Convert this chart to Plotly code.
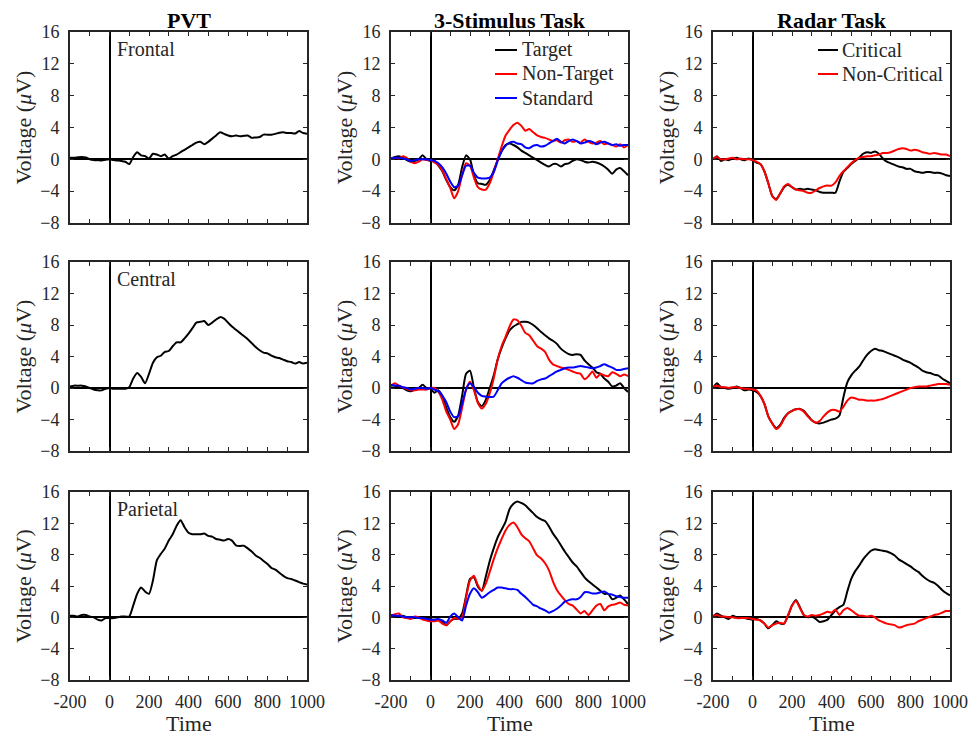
import plotly.graph_objects as go
from plotly.subplots import make_subplots

# ---------------- data ----------------
time_ms = list(range(-200, 1001, 20))

column_titles = ["PVT", "3-Stimulus Task", "Radar Task"]
region_labels = ["Frontal", "Central", "Parietal"]
x_tick_values = list(range(-200, 1001, 100))
x_tick_labels = ["-200", "", "0", "", "200", "", "400", "", "600", "", "800", "", "1000"]
y_tick_values = [-8, -4, 0, 4, 8, 12, 16]

pvt_frontal = [0.2, 0.2, 0.25, 0.3, 0.25, 0.0, -0.1, -0.1, -0.15, -0.05,
               0.0, -0.1, -0.15, -0.2, -0.3, -0.6, 0.3, 0.9, 0.5, 0.4,
               0.1, 0.7, 0.6, 0.4, 0.6, 0.1, 0.4, 0.6, 0.9, 1.2,
               1.5, 1.8, 2.1, 2.2, 1.9, 2.2, 2.6, 3.0, 3.4, 3.2,
               3.0, 2.9, 3.0, 2.9, 2.95, 3.0, 2.7, 2.75, 2.8, 3.1,
               3.1, 3.1, 3.2, 3.35, 3.4, 3.3, 3.3, 3.25, 3.55, 3.3,
               3.2]
pvt_central = [0.2, 0.3, 0.3, 0.3, 0.2, 0.0, -0.2, -0.3, -0.3, -0.1,
               0.0, -0.1, -0.1, -0.1, -0.1, 0.1, 1.2, 1.9, 1.4, 0.6,
               1.8, 3.2, 3.9, 4.1, 4.6, 4.7, 5.3, 5.8, 5.8, 6.3,
               6.9, 7.6, 8.3, 8.4, 8.5, 8.0, 8.3, 8.7, 9.0, 8.8,
               8.3, 7.8, 7.4, 7.0, 6.6, 6.2, 5.7, 5.2, 4.8, 4.5,
               4.4, 4.1, 3.9, 3.8, 3.6, 3.4, 3.3, 3.1, 3.3, 3.1,
               3.2]
pvt_parietal = [0.2, 0.2, 0.1, 0.3, 0.3, 0.1, 0.0, -0.3, -0.4, -0.1,
                -0.1, -0.1, 0.0, 0.1, 0.1, 0.1, 1.5, 3.0, 3.8, 3.3,
                3.0, 4.7, 7.3, 8.1, 8.8, 9.8, 10.6, 11.7, 12.4, 11.5,
                10.8, 10.6, 10.6, 10.6, 10.7, 10.4, 10.3, 10.0, 9.9, 9.8,
                10.0, 9.8, 9.2, 9.1, 9.15, 8.8, 8.4, 7.9, 7.6, 7.2,
                6.8, 6.3, 6.1, 5.7, 5.3, 5.0, 4.9, 4.7, 4.5, 4.3,
                4.2]

stim_target_frontal = [0.1, 0.3, 0.4, 0.2, -0.1, -0.3, -0.2, 0.0, 0.5, 0.0,
                       -0.2, -0.2, -0.8, -1.5, -2.6, -3.5, -3.9, -3.2, -1.0, 0.5,
                       0.0, -2.0, -3.0, -3.1, -3.2, -2.6, -1.4, -0.1, 1.0, 1.8,
                       2.0, 1.8, 1.5, 1.1, 0.8, 0.5, 0.2, -0.1, -0.4, -0.7,
                       -0.9, -0.6, -0.6, -0.9, -0.6, -0.5, -0.2, 0.0, -0.1, -0.3,
                       -0.4, -0.3, -0.4, -0.6, -0.9, -1.3, -1.8, -1.3, -1.1, -1.5,
                       -2.0]
stim_nontarget_frontal = [0.1, 0.2, 0.1, 0.4, 0.2, -0.3, -0.5, -0.3, 0.0, -0.1,
                          -0.1, -0.4, -0.7, -1.4, -2.5, -3.6, -4.9, -4.0, -2.0, -0.5,
                          -0.8, -2.3, -3.5, -3.8, -3.8, -3.0, -1.6, 0.0, 1.6, 3.0,
                          3.7, 4.3, 4.6, 4.2, 3.6, 3.8, 3.4, 3.0, 2.8, 2.7,
                          2.5, 2.3, 2.4, 2.1, 2.4, 2.5, 2.2, 2.3, 2.1, 2.5,
                          2.2, 2.0, 2.1, 2.3, 1.9, 2.0, 1.8, 1.6, 1.9, 1.5,
                          1.8]
stim_standard_frontal = [0.1, 0.2, 0.2, 0.1, 0.0, -0.2, -0.1, 0.0, 0.0, 0.0,
                         -0.1, -0.2, -0.5, -1.0, -1.8, -2.8, -3.5, -3.3, -2.0, -0.8,
                         -0.8, -1.7, -2.3, -2.4, -2.4, -2.3, -1.6, -0.2, 1.0, 1.7,
                         2.1, 2.2, 2.0, 1.9, 1.5, 1.4, 1.7, 1.8, 1.6, 1.7,
                         2.0, 2.3, 2.6, 2.2, 2.0, 2.3, 2.5, 2.3, 2.0, 2.1,
                         2.3, 2.2, 1.9, 2.1, 2.2, 2.0, 1.8, 1.9, 1.7, 1.8,
                         1.8]

stim_target_central = [0.3, 0.3, 0.2, 0.0, -0.3, -0.4, -0.2, 0.0, 0.4, 0.0,
                       -0.1, -0.6, -0.3, -1.0, -2.5, -3.7, -4.3, -3.5, -1.0, 1.8,
                       2.2, 0.0, -1.8, -2.3, -1.5, 0.0, 1.6, 3.6, 5.1, 6.3,
                       7.3, 7.8, 8.1, 8.4, 8.4, 8.3, 8.0, 7.6, 7.1, 6.7,
                       6.3, 6.0, 5.6, 5.0, 4.6, 4.3, 4.2, 4.3, 4.2, 3.5,
                       3.0, 2.6, 2.0, 1.8, 1.2, 0.8, 0.2, 0.3, 0.6, 0.0,
                       -0.5]
stim_nontarget_central = [0.3, 0.6, 0.3, 0.1, -0.1, -0.3, -0.3, -0.2, -0.2, -0.2,
                          0.0, 0.0, -0.5, -1.5, -3.0, -4.0, -5.2, -4.6, -2.5, -0.2,
                          0.8, -0.3, -1.9, -2.6, -2.0, -0.7, 1.2, 3.6, 5.3, 6.5,
                          7.8, 8.7, 8.6, 7.9, 7.0, 6.7, 6.0, 5.3, 5.0, 4.6,
                          3.6, 3.0, 2.8, 2.6, 2.5, 2.3, 2.1, 1.9, 1.8, 1.1,
                          1.5, 2.1, 1.3, 1.8, 1.6, 1.5, 2.0, 1.8, 1.5, 1.7,
                          1.5]
stim_standard_central = [0.4, 0.3, 0.3, 0.1, 0.0, -0.2, -0.1, 0.0, 0.0, -0.1,
                         0.0, -0.2, -0.4, -1.0, -1.8, -3.0, -3.7, -3.6, -2.0, -0.2,
                         0.6, 0.1, -0.6, -1.0, -1.1, -1.15, -1.1, -0.3, 0.6, 1.0,
                         1.3, 1.5, 1.3, 1.0, 0.7, 0.6, 0.6, 0.9, 1.1, 1.2,
                         1.5, 1.8, 2.1, 2.3, 2.5, 2.6, 2.6, 2.7, 2.8, 2.7,
                         2.6, 2.5, 2.6, 2.8, 3.0, 2.8, 2.6, 2.3, 2.3, 2.4,
                         2.5]

stim_target_parietal = [0.2, 0.2, 0.1, 0.2, 0.0, -0.1, -0.1, 0.0, 0.0, -0.1,
                        -0.3, -0.3, -0.3, -0.6, -1.0, -0.5, -0.2, -0.2, 0.5, 2.7,
                        4.9, 5.1, 3.9, 3.4, 5.2, 7.2, 8.8, 10.2, 11.2, 12.2,
                        13.8, 14.5, 14.8, 14.6, 14.3, 13.8, 13.3, 12.8, 12.5, 12.3,
                        11.6, 10.7, 10.0, 9.2, 8.4, 7.7, 7.0, 6.5, 5.8, 5.1,
                        4.6, 4.2, 3.8, 3.4, 3.0, 3.0, 2.3, 2.5, 2.8, 2.3,
                        1.7]
stim_nontarget_parietal = [0.2, 0.4, 0.5, 0.0, -0.1, -0.2, 0.1, 0.0, -0.3, -0.4,
                           -0.5, -0.5, -0.4, -0.8, -1.0, -0.5, -0.1, -0.2, 0.0, 2.5,
                           4.7, 5.3, 4.1, 3.4, 4.3, 5.8, 7.4, 8.8, 10.0, 11.1,
                           11.8, 12.1, 11.5, 10.6, 10.1, 9.7, 8.8, 7.9, 7.5, 6.9,
                           6.0, 4.6, 3.5, 2.8, 2.2, 1.7, 1.5, 1.0, 0.5, 0.8,
                           0.3, 0.9, 1.5, 1.7, 0.9, 1.4, 1.6, 1.7, 1.9, 1.6,
                           1.5]
stim_standard_parietal = [0.3, 0.2, 0.2, 0.1, 0.0, 0.0, 0.0, -0.1, -0.1, -0.2,
                          -0.3, -0.3, -0.2, -0.4, -0.7, 0.1, 0.5, 0.0, -0.4, 1.5,
                          3.0, 3.7, 3.2, 2.5, 2.8, 3.2, 3.5, 3.8, 3.8, 3.7,
                          3.6, 3.6, 3.5, 3.0, 2.6, 2.1, 1.6, 1.4, 1.1, 0.9,
                          0.6, 0.8, 1.1, 1.5, 2.0, 2.2, 2.3, 2.3, 2.6, 3.2,
                          3.2, 3.05, 3.05, 3.2, 3.3, 3.0, 2.9, 2.7, 2.6, 2.5,
                          2.5]

radar_critical_frontal = [0.0, 0.4, -0.2, 0.0, -0.1, 0.1, 0.2, 0.0, -0.1, 0.1,
                          -0.1, -0.4, -0.6, -1.5, -3.0, -4.6, -5.0, -4.3, -3.5, -3.2,
                          -3.5, -3.8, -3.7, -3.8, -3.7, -3.8, -3.9, -4.1, -4.2, -4.2,
                          -4.2, -4.2, -2.8, -1.6, -1.1, -0.6, -0.2, 0.2, 0.7, 0.9,
                          0.8, 1.0, 0.7, 0.1, -0.3, -0.5, -0.7, -0.9, -1.0, -1.2,
                          -1.2, -1.5, -1.6, -1.7, -1.6, -1.6, -1.7, -1.7, -1.8, -2.0,
                          -2.1]
radar_noncritical_frontal = [0.1, 0.3, 0.0, 0.0, 0.1, 0.2, 0.0, 0.1, 0.0, 0.0,
                             -0.1, -0.3, -0.6, -1.5, -3.0, -4.6, -5.1, -4.3, -3.4, -3.1,
                             -3.5, -3.8, -3.9, -4.0, -4.2, -4.2, -3.9, -3.6, -3.4, -3.3,
                             -3.3, -2.9, -2.1, -1.5, -1.0, -0.5, -0.1, 0.2, 0.3, 0.4,
                             0.4, 0.5, 0.6, 0.8, 0.8, 0.9, 1.1, 1.3, 1.4, 1.3,
                             1.1, 1.2, 1.1, 0.9, 0.8, 0.7, 0.8, 0.7, 0.6, 0.6,
                             0.4]
radar_critical_central = [0.0, 0.6, 0.1, 0.0, -0.1, 0.0, 0.2, 0.0, -0.3, -0.2,
                          -0.3, -0.5, -1.0, -2.0, -3.6, -4.5, -5.1, -4.7, -3.8, -3.2,
                          -2.9, -2.7, -2.65, -2.9, -3.5, -4.1, -4.4, -4.5, -4.4, -4.2,
                          -4.0, -3.9, -3.5, -1.2, 0.7, 1.6, 2.2, 2.7, 3.5, 4.2,
                          4.7, 5.0, 4.8, 4.7, 4.5, 4.3, 4.1, 3.9, 3.6, 3.4,
                          3.2, 2.9, 2.6, 2.2, 2.0, 1.9, 1.7, 1.6, 1.2, 0.9,
                          0.6]
radar_noncritical_central = [0.2, 0.3, 0.1, 0.1, 0.0, 0.1, 0.1, 0.0, -0.1, -0.1,
                             -0.2, -0.3, -1.0, -2.0, -3.6, -4.5, -5.2, -4.8, -3.9, -3.2,
                             -2.9, -2.7, -2.7, -3.0, -3.6, -4.1, -4.4, -4.2, -3.6, -3.1,
                             -2.8, -2.8, -3.0, -2.4, -1.6, -1.2, -1.3, -1.5, -1.5, -1.6,
                             -1.6, -1.6, -1.5, -1.4, -1.2, -1.0, -0.8, -0.6, -0.4, -0.2,
                             0.0, 0.1, 0.2, 0.2, 0.2, 0.3, 0.4, 0.5, 0.5, 0.5,
                             0.4]
radar_critical_parietal = [0.1, 0.5, 0.2, 0.0, -0.2, 0.2, 0.0, 0.0, -0.1, -0.2,
                           -0.3, -0.2, -0.4, -0.8, -1.4, -1.0, -0.5, -0.8, -0.8, 0.2,
                           1.5, 2.2, 1.3, 0.3, 0.0, 0.1, -0.2, -0.6, -0.5, -0.3,
                           0.3, 0.9, 1.3, 1.6, 3.3, 4.9, 5.9, 6.6, 7.4, 8.0,
                           8.5, 8.7, 8.6, 8.5, 8.4, 8.2, 7.9, 7.4, 7.1, 6.8,
                           6.5, 6.1, 5.8, 5.3, 4.9, 4.6, 4.4, 4.0, 3.5, 3.1,
                           2.8]
radar_noncritical_parietal = [0.2, 0.3, 0.1, 0.1, 0.0, 0.0, -0.1, -0.1, -0.1, -0.1,
                              -0.2, -0.3, -0.4, -0.8, -1.3, -1.0, -0.8, -0.7, -0.8, 0.3,
                              1.5, 2.1, 1.2, 0.3, 0.1, 0.3, 0.2, 0.3, 0.5, 0.7,
                              0.6, 1.0, 0.3, 0.9, 1.2, 0.9, 0.5, 0.2, 0.2, 0.1,
                              0.2, 0.0, -0.4, -0.6, -0.8, -0.9, -1.0, -1.3, -1.2, -1.0,
                              -0.9, -0.8, -0.5, -0.3, -0.1, 0.1, 0.3, 0.4, 0.6, 0.8,
                              0.8]

stim_legend_names = ["Target", "Non-Target", "Standard"]
radar_legend_names = ["Critical", "Non-Critical"]

# ---------------- layout constants ----------------
W, H = 973, 742
FONT = "Liberation Serif, Times New Roman, serif"
AXC = "#262626"
RED = "#FF0000"
BLUE = "#0000FF"
col_px = [(70, 307), (391, 628), (713, 950)]
row_px = [(32, 223), (262, 451), (492, 680)]

panels = {
    (0, 0): [("PVT", pvt_frontal, "black")],
    (1, 0): [("PVT", pvt_central, "black")],
    (2, 0): [("PVT", pvt_parietal, "black")],
    (0, 1): [("Target", stim_target_frontal, "black"),
             ("Non-Target", stim_nontarget_frontal, RED),
             ("Standard", stim_standard_frontal, BLUE)],
    (1, 1): [("Target", stim_target_central, "black"),
             ("Non-Target", stim_nontarget_central, RED),
             ("Standard", stim_standard_central, BLUE)],
    (2, 1): [("Target", stim_target_parietal, "black"),
             ("Non-Target", stim_nontarget_parietal, RED),
             ("Standard", stim_standard_parietal, BLUE)],
    (0, 2): [("Critical", radar_critical_frontal, "black"),
             ("Non-Critical", radar_noncritical_frontal, RED)],
    (1, 2): [("Critical", radar_critical_central, "black"),
             ("Non-Critical", radar_noncritical_central, RED)],
    (2, 2): [("Critical", radar_critical_parietal, "black"),
             ("Non-Critical", radar_noncritical_parietal, RED)],
}

fig = make_subplots(rows=3, cols=3)

for (r, c), series in panels.items():
    for name, vals, color in series:
        fig.add_trace(go.Scatter(x=time_ms, y=vals, mode="lines", name=name,
                                 line=dict(color=color, width=2, shape="spline", smoothing=0.6),
                                 showlegend=False, hoverinfo="skip"),
                      row=r + 1, col=c + 1)

annotations = []
shapes = []
for r in range(3):
    for c in range(3):
        idx = r * 3 + c + 1
        sfx = "" if idx == 1 else str(idx)
        x0, x1 = col_px[c]
        y0, y1 = row_px[r]
        fig.layout["xaxis" + sfx].update(
            domain=[x0 / W, x1 / W], range=[-200, 1000],
            tickmode="array", tickvals=x_tick_values, ticktext=x_tick_labels,
            showticklabels=(r == 2), ticks="inside", ticklen=4, tickwidth=1,
            tickcolor=AXC, showline=True, linecolor=AXC, linewidth=2,
            mirror="ticks", showgrid=False, zeroline=True, zerolinecolor="black",
            zerolinewidth=2, tickfont=dict(family=FONT, size=18, color=AXC),
            ticklabelstandoff=4, automargin=False, fixedrange=True)
        fig.layout["yaxis" + sfx].update(
            domain=[1 - y1 / H, 1 - y0 / H], range=[-8, 16],
            tickmode="array", tickvals=y_tick_values,
            ticks="inside", ticklen=4, tickwidth=1, tickcolor=AXC,
            showline=True, linecolor=AXC, linewidth=2, mirror="ticks",
            showgrid=False, zeroline=True, zerolinecolor="black", zerolinewidth=2,
            tickfont=dict(family=FONT, size=18, color=AXC),
            ticklabelstandoff=5, automargin=False, fixedrange=True)
        annotations.append(dict(
            text="Voltage (<i>μ</i>V)", xref="paper", yref="paper",
            x=(x0 - 47) / W, y=1 - (y0 + y1) / 2 / H, textangle=-90,
            showarrow=False, xanchor="center", yanchor="middle",
            font=dict(family=FONT, size=22, color=AXC)))
        if r == 2:
            annotations.append(dict(
                text="Time", xref="paper", yref="paper",
                x=(x0 + x1) / 2 / W, y=1 - 723 / H, showarrow=False,
                xanchor="center", yanchor="middle",
                font=dict(family=FONT, size=22, color=AXC)))
        if r == 0:
            annotations.append(dict(
                text="<b>" + column_titles[c] + "</b>", xref="paper", yref="paper",
                x=(x0 + x1) / 2 / W, y=1 - 20 / H, showarrow=False,
                xanchor="center", yanchor="middle",
                font=dict(family=FONT, size=22, color="black")))
    y0, y1 = row_px[r]
    annotations.append(dict(
        text=region_labels[r], xref="paper", yref="paper",
        x=115 / W, y=1 - (y0 + 17) / H, showarrow=False,
        xanchor="left", yanchor="middle",
        font=dict(family=FONT, size=20, color=AXC)))

# hand-placed legends (line sample + label) in the top row panels
legend_specs = [
    (stim_legend_names, ["black", RED, BLUE], 495, 517, 520),
    (radar_legend_names, ["black", RED], 818, 838, 840),
]
for names, colors, lx0, lx1, tx in legend_specs:
    for i, (nm, colr) in enumerate(zip(names, colors)):
        yy = 1 - (50 + 24 * i) / H
        shapes.append(dict(type="line", xref="paper", yref="paper",
                           x0=lx0 / W, x1=lx1 / W, y0=yy, y1=yy,
                           line=dict(color=colr, width=2)))
        annotations.append(dict(
            text=nm, xref="paper", yref="paper", x=tx / W, y=yy,
            showarrow=False, xanchor="left", yanchor="middle",
            font=dict(family=FONT, size=20, color=AXC)))

fig.update_layout(
    width=W, height=H,
    margin=dict(l=0, r=0, t=0, b=0, autoexpand=False),
    paper_bgcolor="white", plot_bgcolor="white",
    annotations=annotations, shapes=shapes,
    showlegend=False,
    font=dict(family=FONT),
)

fig.write_html("out.html")
